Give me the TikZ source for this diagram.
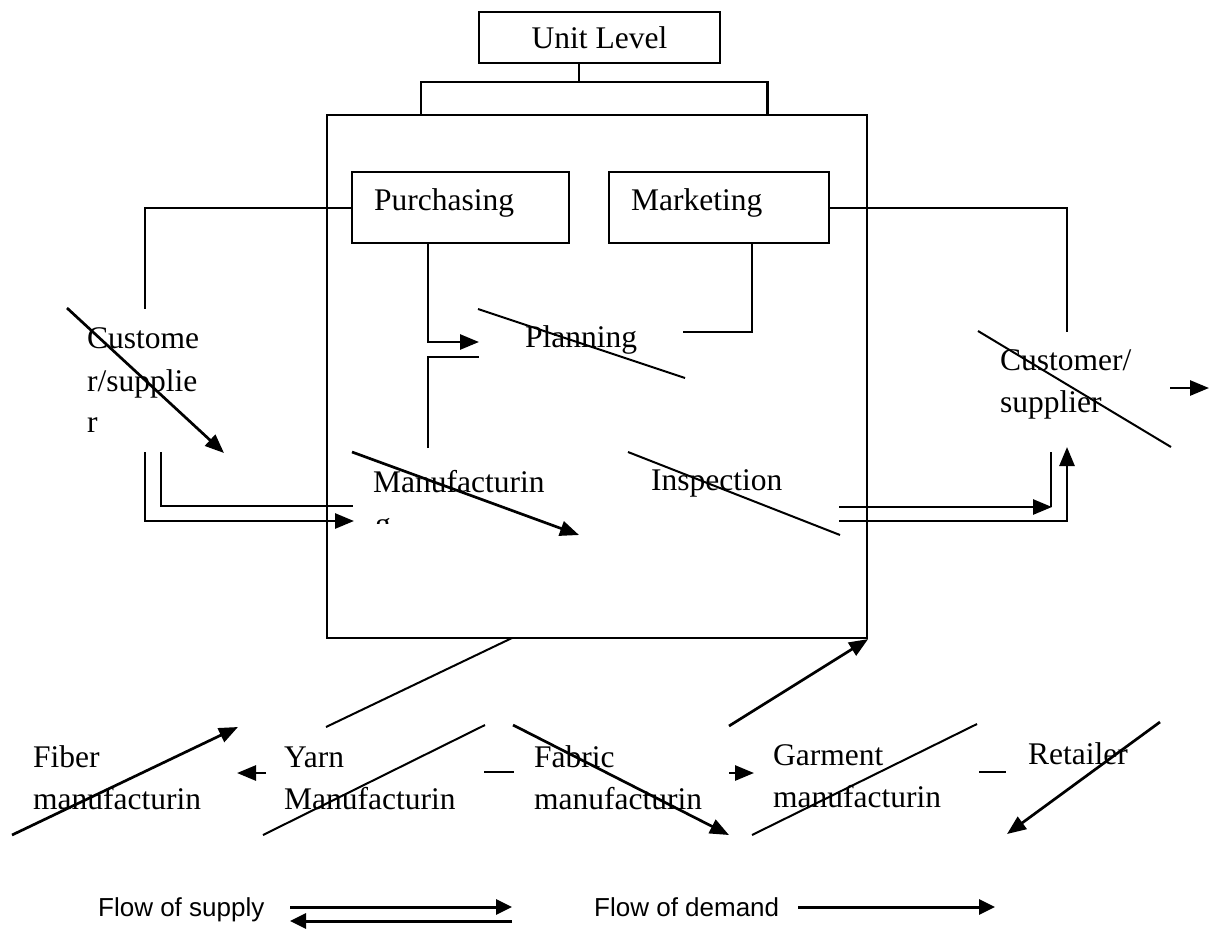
\documentclass[tikz,border=0pt]{standalone}
\usepackage{fontspec}
\setmainfont{Liberation Serif}
\setsansfont{Liberation Sans}
\usetikzlibrary{arrows.meta,calc}
\begin{document}
\begin{tikzpicture}[x=1pt,y=-1pt,
  thinln/.style={line width=2pt},
  boxln/.style={line width=2.2pt},
  arr/.style={line width=2.7pt,-{Triangle[length=19pt,width=15pt]}},
  legarr/.style={line width=3pt,-{Triangle[length=16pt,width=15pt]}},
  boxn/.style={draw,line width=2.2pt,inner sep=0pt,font=\fontsize{31.5}{42}\selectfont},
  lbl/.style={anchor=base west,inner sep=0pt,font=\fontsize{31.5}{42}\selectfont},
  leg/.style={anchor=base west,inner sep=0pt,font=\sffamily\fontsize{26}{30}\selectfont}]
\useasboundingbox (0,0) rectangle (1212,932);

% ---- boxes
\node[boxn,minimum width=241pt,minimum height=51pt] (unitlvl) at (599.5,37.5) {Unit Level};
\node[boxn,minimum width=540pt,minimum height=523pt] (unit) at (597,376.5) {};
\node[boxn,minimum width=217pt,minimum height=71pt] (purch) at (460.5,207.5) {};
\node[boxn,minimum width=220pt,minimum height=71pt] (mark) at (719,207.5) {};
\node[lbl] (purchtxt) at (374,210) {Purchasing};
\node[lbl] (marktxt) at (631,210) {Marketing};

% ---- connector from Unit Level
\coordinate (jm) at (579,82);
\coordinate (jl) at (421,82);
\coordinate (jr) at (767.5,82);
\draw[boxln] (unitlvl.south -| jm) -- (jm);
\draw[boxln] (jl |- unit.north) -- (jl) -- (jr) -- (jr |- unit.north);

% ---- texts
\node[lbl] (plan) at (525,347) {Planning};
\node[lbl] (manu) at (373,492) {Manufacturin};
\begin{scope}
  \clip (360,500) rectangle (420,523);
  \node[lbl] (manug) at (375,534) {g};
\end{scope}
\node[lbl] (insp) at (651,490) {Inspection};
\node[lbl] (cl1) at (87,348) {Custome};
\node[lbl] (cl2) at (87,391) {r/supplie};
\node[lbl] (cl3) at (87,432) {r};
\node[lbl] (cr1) at (1000,370) {Customer/};
\node[lbl] (cr2) at (1000,412) {supplier};

\node[lbl] (fib1) at (33,767) {Fiber};
\node[lbl] (fib2) at (33,809) {manufacturin};
\node[lbl] (yarn1) at (284,767) {Yarn};
\node[lbl] (yarn2) at (284,809) {Manufacturin};
\node[lbl] (fab1) at (534,767) {Fabric};
\node[lbl] (fab2) at (534,809) {manufacturin};
\node[lbl] (gar1) at (773,765) {Garment};
\node[lbl] (gar2) at (773,807) {manufacturin};
\node[lbl] (ret) at (1028,764) {Retailer};

\node[leg] (legs) at (98,916) {Flow of supply};
\node[leg] (legd) at (594,916) {Flow of demand};

% ---- upper connectors
\coordinate (lc) at (145,309);
\coordinate (rc) at (1067,332);
\draw[thinln] (purch.west) -| (lc);
\draw[thinln] (mark.east) -| (rc);

\coordinate (p1) at (428,342);
\coordinate (pa) at (479,342);
\draw[arr] (purch.south -| p1) -- (p1) -- (pa);
\coordinate (m1) at (428,448);
\coordinate (m2) at (428,357);
\coordinate (m3) at (479,357);
\draw[thinln] (m1) -- (m2) -- (m3);

\coordinate (k1) at (752,332);
\coordinate (k2) at (683,332);
\draw[thinln] (mark.south -| k1) -- (k1) -- (k2);

% strike lines
\coordinate (pl1) at (478,309); \coordinate (pl2) at (685,378);
\draw[thinln] (pl1) -- (pl2);
\coordinate (ma1) at (352,452); \coordinate (ma2) at (579,535);
\draw[arr] (ma1) -- (ma2);
\coordinate (in1) at (628,452); \coordinate (in2) at (840,535);
\draw[thinln] (in1) -- (in2);

% left customer
\coordinate (cla) at (67,308); \coordinate (clb) at (224,453);
\draw[arr] (cla) -- (clb);
\coordinate (l1) at (145,452); \coordinate (l2) at (145,521); \coordinate (l3) at (354,521);
\draw[arr] (l1) -- (l2) -- (l3);
\coordinate (l4) at (161,452); \coordinate (l5) at (161,506); \coordinate (l6) at (353,506);
\draw[thinln] (l4) -- (l5) -- (l6);

% right customer
\coordinate (r1) at (839,507); \coordinate (r2) at (1052,507); \coordinate (r3) at (1051,452);
\draw[arr] (r1) -- (r2);
\draw[thinln] (r3) -- (r3 |- r2);
\coordinate (r4) at (839,521); \coordinate (r5) at (1067,521); \coordinate (r6) at (1067,447);
\draw[arr] (r4) -- (r5) -- (r6);
\coordinate (cra) at (978,331); \coordinate (crb) at (1171,447);
\draw[thinln] (cra) -- (crb);
\coordinate (rs1) at (1170,388); \coordinate (rs2) at (1209,388);
\draw[arr] (rs1) -- (rs2);

% ---- bottom
\coordinate (b1) at (512,638); \coordinate (b2) at (326,727);
\draw[thinln] (b1) -- (b2);
\coordinate (g0) at (729,726);
\draw[arr] (g0) -- (unit.south east);
\coordinate (f1) at (12,835); \coordinate (f2) at (238,727);
\draw[arr] (f1) -- (f2);
\coordinate (s1) at (266,773); \coordinate (s2) at (237,773);
\draw[arr] (s1) -- (s2);
\coordinate (y1) at (263,835); \coordinate (y2) at (485,725);
\draw[thinln] (y1) -- (y2);
\coordinate (d1) at (484,772); \coordinate (d2) at (514,772);
\draw[thinln] (d1) -- (d2);
\coordinate (fa1) at (513,725); \coordinate (fa2) at (729,835);
\draw[arr] (fa1) -- (fa2);
\coordinate (s3) at (729,773); \coordinate (s4) at (754,773);
\draw[arr] (s3) -- (s4);
\coordinate (ga1) at (752,835); \coordinate (ga2) at (977,724);
\draw[thinln] (ga1) -- (ga2);
\coordinate (d3) at (979,772); \coordinate (d4) at (1006,772);
\draw[thinln] (d3) -- (d4);
\coordinate (re1) at (1160,722); \coordinate (re2) at (1007,834);
\draw[arr] (re1) -- (re2);

% ---- legend
\coordinate (la1) at (290,907); \coordinate (la2) at (512,907);
\draw[legarr] (la1) -- (la2);
\coordinate (la3) at (512,921); \coordinate (la4) at (290,921);
\draw[legarr] (la3) -- (la4);
\coordinate (ld1) at (798,907); \coordinate (ld2) at (995,907);
\draw[legarr] (ld1) -- (ld2);
\end{tikzpicture}
\end{document}
